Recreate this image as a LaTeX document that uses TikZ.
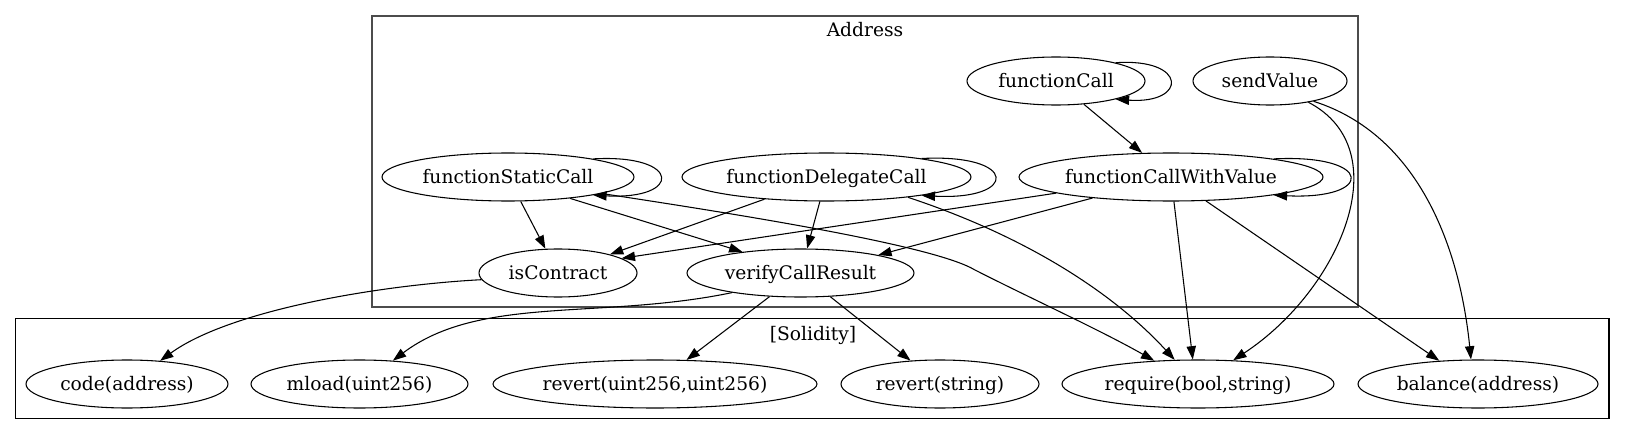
\documentclass[tikz,border=0pt]{standalone}
\usepackage{fontspec}
\setmainfont{DejaVu Serif}
\usetikzlibrary{arrows.meta, shapes.geometric}

\begin{document}
\begin{tikzpicture}[x=0.75pt,y=-0.75pt]
  \tikzset{fn/.style={draw, ellipse, line width=0.8pt, inner sep=0pt, minimum height=36pt,
      text height=12.5pt, text depth=3pt, font=\fontsize{14}{16}\selectfont},
    nw/.style={minimum width=#1*0.75pt},
    call/.style={line width=0.8pt, -{Triangle[length=10pt,width=7pt]}},
    lbl/.style={anchor=base, inner sep=0pt, font=\fontsize{14}{16}\selectfont}}
  \useasboundingbox (0,0) rectangle (1625,435);
  % clusters
  \draw[black!70, line width=1.5pt] (371.7,15.7) rectangle (1358,307.3);
  \node[lbl] (addr) at (865,36.5) {Address};
  \draw[line width=0.8pt] (15.7,318.3) rectangle (1609,418.3);
  \node[lbl] (sol) at (813,340) {[Solidity]};
  % Address
  \node[fn, nw=178] (fc) at (1056,81) {functionCall};
  \node[fn, nw=154] (sv) at (1270,81) {sendValue};
  \node[fn, nw=252] (fsc) at (508,177) {functionStaticCall};
  \node[fn, nw=289] (fdc) at (826.5,177) {functionDelegateCall};
  \node[fn, nw=304] (fcwv) at (1171,177) {functionCallWithValue};
  \node[fn, nw=158] (ic) at (558,273) {isContract};
  \node[fn, nw=227] (vcr) at (800.5,273) {verifyCallResult};
  % Solidity
  \node[fn, nw=202] (code) at (127,384) {code(address)};
  \node[fn, nw=217] (mload) at (359.5,384) {mload(uint256)};
  \node[fn, nw=324] (revuu) at (655,384) {revert(uint256,uint256)};
  \node[fn, nw=198] (revs) at (940,384) {revert(string)};
  \node[fn, nw=272] (req) at (1198,384) {require(bool,string)};
  \node[fn, nw=240] (bal) at (1478,384) {balance(address)};
  % self calls
  \draw[call] (fc.17) .. controls +(72,-5) and +(72,5) .. (fc.-17);
  \draw[call] (fsc.12) .. controls +(89,-5) and +(89,5) .. (fsc.-12);
  \draw[call] (fdc.11) .. controls +(97,-5) and +(97,5) .. (fdc.-11);
  \draw[call] (fcwv.10) .. controls +(101,-5) and +(101,5) .. (fcwv.-10);
  % calls
  \draw[call] (fc) -- (fcwv);
  \draw[call] (fsc) -- (ic);
  \draw[call] (fsc.-19) -- (vcr.160);
  \draw[call] (fsc.-10) .. controls (750,216) and (935,246) .. (975,270)
    .. controls (1030,298) and (1100,330) .. (req.152);
  \draw[call] (fdc) -- (ic);
  \draw[call] (fdc) -- (vcr);
  \draw[call] (fdc.-14) .. controls (1037,240) and (1120,300) .. (req.134);
  \draw[call] (fcwv.188) -- (ic.13);
  \draw[call] (fcwv.195) -- (vcr.13);
  \draw[call] (fcwv) -- (req.102);
  \draw[call] (fcwv) -- (bal.149);
  \draw[call] (sv.-29) .. controls (1400,150) and (1340,290) .. (req.34);
  \draw[call] (sv.-25) .. controls (1420,135) and (1460,250) .. (bal.106);
  \draw[call] (ic.185) .. controls (380,285) and (230,310) .. (code.35);
  \draw[call] (vcr.196) .. controls (600,320) and (480,295) .. (mload.35);
  \draw[call] (vcr) -- (revuu);
  \draw[call] (vcr) -- (revs);
\end{tikzpicture}
\end{document}
